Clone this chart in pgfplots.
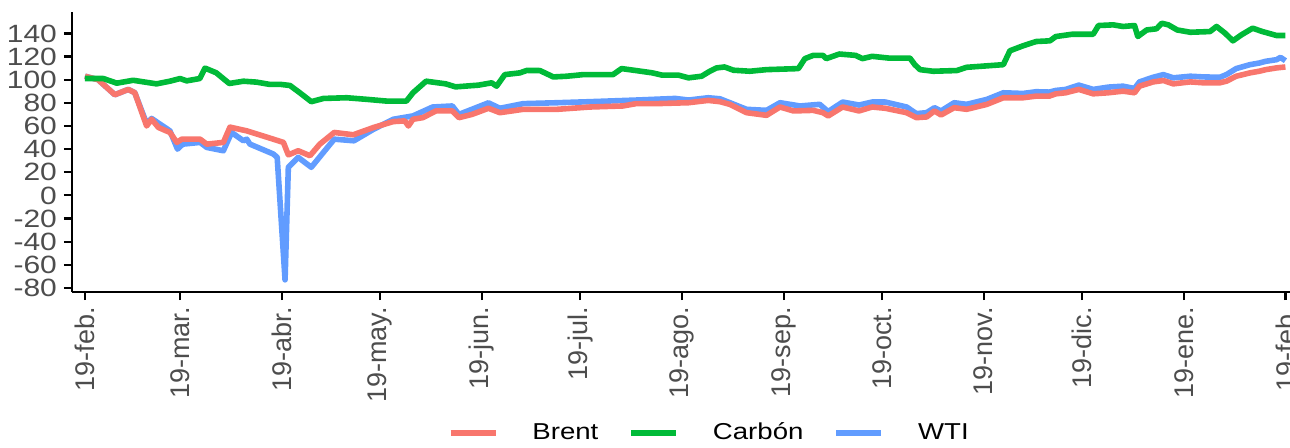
\documentclass[border=0pt]{standalone}
\usepackage{fontspec}
\setmainfont{Liberation Sans}[FakeStretch=1.2]
\newfontfamily\xlab{Liberation Sans}
\usepackage{pgfplots}
\pgfplotsset{compat=1.18}
\definecolor{cBrent}{HTML}{F8766D}
\definecolor{cCarbon}{HTML}{00BA38}
\definecolor{cWTI}{HTML}{619CFF}
\definecolor{tickgray}{HTML}{4D4D4D}

\begin{document}
\begin{tikzpicture}
\path[use as bounding box] (0,0) rectangle (645pt,223.5pt);
\clip (0,0) rectangle (645pt,223.5pt);
\begin{axis}[
  at={(36pt,77.5pt)}, anchor=south west,
  scale only axis, width=609pt, height=140pt,
  xmin=-3.96, xmax=367.4, ymin=-83.5, ymax=158.5,
  axis x line*=bottom, axis y line*=left,
  axis line style={black, line width=1.1pt, -},
  tick align=outside, major tick length=4pt,
  tick style={black, line width=1.1pt},
  ytick={-80,-60,...,140},
  xtick={0,29,60,90,121,151,182,213,243,274,304,335,366},
  xticklabels={19-feb.,19-mar.,19-abr.,19-may.,19-jun.,19-jul.,19-ago.,19-sep.,19-oct.,19-nov.,19-dic.,19-ene.,19-feb.},
  yticklabel style={font=\fontsize{12.5}{14}\selectfont, text=tickgray},
  xticklabel style={font=\xlab\fontsize{13.5}{15}\selectfont, text=tickgray, rotate=90, anchor=east},
  /pgf/number format/assume math mode=true,
  legend style={at={(0.524,-0.5036)}, anchor=center, draw=none, fill=none,
    font=\fontsize{11.5}{13}\selectfont,
    /tikz/every odd column/.append style={column sep=15pt},
    /tikz/every even column/.append style={column sep=13pt}},
  legend columns=3,
  legend image code/.code={\draw[#1, line width=2.8pt] (0pt,0pt) -- (22.5pt,0pt);},
  every axis plot/.append style={line width=2.8pt, line join=round},
]
\addplot[cWTI, forget plot] coordinates {
(0,103) (4,100) (9.1,87) (13.2,91.6) (15.2,88.7) (18.8,62) (20.3,66.5) (25.9,55.8)
(28.2,40) (29.8,44.3) (35.1,45.8) (37.1,41.5) (42.2,38.6) (44.7,54.4) (48.3,47.2)
(49.3,48.6) (50.3,44.3) (57.4,35.8) (58.6,32.9) (61,-73) (62,24.3) (65,32.9) (69,24.3)
(72.7,37.2) (76,48.6) (82,47.2) (88,57.2) (94,65.8) (100,68.7) (106,76.4) (112,77.3)
(114,70) (123,80) (126.5,75.3) (133.6,79.3) (144,80.1) (154,81) (168,82.4) (180,83.8)
(184,82.4) (190,84.4) (193.6,83.5) (201.7,74.4) (207.8,73.5) (211.9,80.1) (218,77.3)
(224,78.7) (226.6,72.4) (231,80.7) (236,78.1) (240,80.7) (244,80.7) (250.5,76.4)
(253.5,70.7) (256.6,71.5) (259,75.8) (261,73) (265,80.1) (268.8,78.7) (275,83)
(280,88.7) (286,88.1) (290,89.6) (294,89.3) (296,90.7) (299,91.6) (303,95.3)
(307.4,91.6) (312,93.6) (316.5,94.4) (320,92.4) (321.5,98.1) (325.7,102.1)
(328.8,104.4) (331.8,101.6) (337,103) (341,102.4) (346,102.1) (348,104.4) (351,109.6)
(355.2,113) (358,114.4) (360,115.9) (363.3,117.3) (364.5,119.3) (366,116.4)
};
\addplot[cBrent] coordinates {
(0,103) (4,100) (9.1,87) (13.2,91.6) (15.2,88.7) (18.8,60) (20.3,65.8) (22.4,58.7)
(25.9,54.4) (28,45.8) (29.5,48.6) (35.1,48.6) (37.1,44.3) (42.2,45.8) (44.2,59)
(49.3,55.8) (56.4,49.5) (60.5,45.8) (62,35) (65,38.6) (68.6,34.3) (71.6,44.3)
(76,54.4) (81.8,52.4) (88,58.7) (94,63.8) (97.5,64.4) (98.6,60) (100,65.8) (103,67.2)
(107,73) (112,73) (114,67.2) (118,70) (123,75.3) (126.5,71.5) (133.6,74.4) (144,74.4)
(154,76.4) (164,77.3) (168,79.3) (174,79.3) (184,80.1) (190,82.1) (193.6,81)
(196.6,78.7) (201.7,71.5) (207.8,69.2) (211.9,76.4) (216,73) (222,73.5) (225,71.5)
(226.6,68.7) (231,76.4) (236,73) (240,76.4) (244,75.3) (250.5,71.5) (253.5,67.2)
(256.6,67.8) (259,73) (261,69.5) (265,75.8) (268.8,74.4) (275,78.7) (280,84.4)
(286,84.4) (290,85.8) (294,85.8) (296,87.8) (299,88.7) (303,91.6) (307.4,87.8)
(312,88.7) (316.5,90.1) (320,88.7) (321.5,94.4) (325.7,98.1) (328.8,99.3) (331.8,96.4)
(337,98.1) (341,97.3) (346,97.3) (348,98.7) (351,103) (355.2,105.9) (358,107.3)
(360,108.7) (363.3,110.2) (366,111)
};
\addlegendentry{Brent}
\addplot[cCarbon] coordinates {
(0,101) (5.6,101) (9.7,97) (14.7,99.5) (21.8,96.4) (25.9,98.7) (29,101) (31,99)
(35,101) (36.6,110) (40,106) (44,96.7) (48.3,98.7) (52.3,97.9) (56.4,95.9) (59.5,96)
(62.5,95) (65.5,88.7) (69,81) (72.7,83.8) (79.8,84.4) (86,83) (92,81.5) (98,81.5)
(100,88.7) (104,98.7) (110,96.4) (113,93.8) (120,95.3) (124,97.3) (125.5,94.4)
(128,104.4) (132.6,105.9) (134.7,108) (138.7,107.9) (142.8,102.4) (146.9,103)
(151.9,104.4) (161,104.4) (163.6,109.6) (168,107.9) (173,105.9) (176,103.9) (181,103.9)
(184,101.6) (188,103) (190.5,107.3) (192.6,110.2) (195,111) (197.7,108.2) (202.7,107.3)
(207.8,108.7) (217.5,109.6) (219.5,118.2) (222,121) (225,121) (226,118.2) (230,122.2)
(235,121) (237,118.2) (240,120.2) (245,118.7) (251.5,118.7) (253,113) (254.6,108.7)
(258.6,107.3) (265.8,107.9) (268.8,110.7) (280,113) (282,125) (286,129.3) (290,133)
(294.2,133.6) (296,137.3) (301,139.3) (307.4,139.3) (309,146.8) (313.5,147.4)
(316.5,146) (320,146.8) (321,137.3) (323.7,143) (326.7,144) (328.3,148.8) (330.3,147.4)
(333,143) (337,141) (343,141.6) (345,146) (347.6,140.2) (350,133.6) (352.6,138.8)
(356,144.5) (359,141.6) (363.3,138.2) (366,138.2)
};
\addlegendentry{Carbón}
\addlegendimage{cWTI}
\addlegendentry{WTI}
\end{axis}
\end{tikzpicture}
\end{document}
